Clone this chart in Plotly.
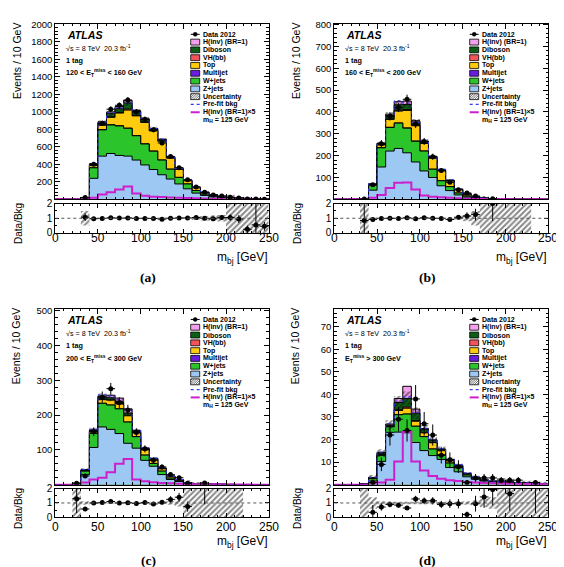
import numpy as np
import plotly.graph_objects as go

W, H = 564, 567

edges = list(range(0, 260, 10))          # bin edges 0..250 GeV
centers = [e + 5 for e in edges[:-1]]
xtick_vals = [0, 50, 100, 150, 200, 250]

# ---------------- Panel (a): 120 < ETmiss < 160 GeV ----------------
a_zjets    = [0,0,0,12,240,494,524,502,494,449,393,341,281,232,176,120,71,45,28,18,11,7,5,3,2]
a_wjets    = [0,0,0,5,120,300,326,337,318,278,240,210,168,113,75,56,30,15,10,7,5,3,2,2,1]
a_multijet = [0,0,0,0,1,2,2,2,2,2,1,1,1,0,0,0,0,0,0,0,0,0,0,0,0]
a_top      = [0,0,0,2,25,50,85,145,206,225,245,230,215,126,90,36,30,17,11,7,4,3,3,2,2]
a_vhbb     = [0,0,0,0,2,4,6,8,12,8,5,3,2,1,1,0,0,0,0,0,0,0,0,0,0]
a_diboson  = [0,0,0,1,14,25,40,45,70,40,30,20,15,10,8,6,5,3,2,2,1,1,0,0,0]
a_hinv     = [0,0,0,0,4,11,16,22,29,13,8,6,5,4,4,3,2,2,1,1,1,1,0,0,0]
a_data     = [0,0,0,21,400,870,1030,1075,1135,1000,915,795,645,490,362,224,142,80,50,37,23,14,3,4,2]
a_prefit   = [0,0,0,19,405,880,990,1045,1110,1010,920,810,690,488,352,220,138,82,52,35,22,15,10,7,5]
a_hinv5    = [0,0,0,2,19,55,80,112,146,66,40,30,26,22,18,15,12,9,7,5,4,3,2,2,1]
a_ratio    = [None,None,None,1.07,0.97,0.98,1.03,1.01,1.02,0.99,0.99,0.98,0.94,1.0,1.02,1.02,1.05,1.0,0.96,1.05,1.05,0.95,0.25,0.55,0.45]
a_ratio_err= [0,0,0,0.25,0.05,0.03,0.03,0.03,0.03,0.03,0.03,0.04,0.04,0.05,0.05,0.07,0.09,0.11,0.14,0.17,0.22,0.27,0.25,1.5,0.3]
a_unc      = [0,0,0,0.5,0.03,0.03,0.03,0.03,0.03,0.03,0.03,0.03,0.03,0.04,0.04,0.05,0.12,0.15,0.2,0.22,1.5,1.5,1.5,1.5,1.5]
a_yticks   = [200,400,600,800,1000,1200,1400,1600,1800,2000]

# ---------------- Panel (b): 160 < ETmiss < 200 GeV ----------------
b_zjets    = [0,0,0,1.5,42,148,221,233,213,171,130,100,62,40,20,10,5,3,1,0.7,0.5,0.3,0.2,0,0]
b_wjets    = [0,0,0,0.5,23,88,108,116,113,95,91,38,23,18,9,5,2,1,0.5,0.3,0.2,0.2,0.1,0,0]
b_multijet = [0,0,0,0,0,1,1,1,1,1,0,0,0,0,0,0,0,0,0,0,0,0,0,0,0]
b_top      = [0,0,0,0,3,12,36,54,80,70,35,50,45,26,15,8,4,2,0,0,0,0,0,0,0]
b_vhbb     = [0,0,0,0,0,1,2,4,4,3,1,1,0,0,0,0,0,0,0,0,0,0,0,0,0]
b_diboson  = [0,0,0,0,2,5,15,25,23,14,7,6,5,3,2,2,1,0,0,0,0,0,0,0,0]
b_hinv     = [0,0,0,0,1,2,7,14,16,6,3,2,1,1,1,0,0,0,0,0,0,0,0,0,0]
b_data     = [0,0,0,2,67,255,380,420,458,345,265,195,132,78,44,29,15,0,3,0,0,0,0,0,0]
b_prefit   = [0,0,0,2,72,260,388,452,440,352,268,196,138,90,47,25,12,6,1.5,1,0.7,0.5,0.3,0,0]
b_hinv5    = [0,0,0,1,7,20,52,76,77,45,17,12,9,7,5,3,2,1.5,1,1,0.5,0.5,0.3,0.2,0.1]
b_ratio    = [None,None,None,0.85,0.92,0.98,1.0,0.98,1.03,0.97,1.03,1.0,0.98,0.92,1.07,1.15,1.25,None,2.0,None,None,None,None,None,None]
b_ratio_err= [0,0,0,1.2,0.12,0.06,0.05,0.05,0.05,0.05,0.06,0.07,0.09,0.11,0.15,0.25,0.4,0,1.2,0,0,0,0,0,0]
b_unc      = [0,0,0,1.5,0.05,0.04,0.04,0.04,0.04,0.04,0.04,0.04,0.04,0.05,0.1,0.2,0.5,1.5,1.5,1.5,1.5,1.5,1.5,0,0]
b_yticks   = [100,200,300,400,500,600,700,800]

# ---------------- Panel (c): 200 < ETmiss < 300 GeV ----------------
c_zjets    = [0,0,2,29,107,166,159,147,119,105,70,53,29,15,9,3,2,1.5,1,0.7,0.5,0.3,0,0,0]
c_wjets    = [0,0,1,10,40,68,70,71,61,33,15,8,10,4,2,1,0.5,0.5,0.5,0.3,0.2,0.1,0,0,0]
c_multijet = [0,0,0,0,0,0,0,0,0,0,0,0,0,0,0,0,0,0,0,0,0,0,0,0,0]
c_top      = [0,0,0,2,5,11,14,14,18,11,15,12,7,5,3,1,0.5,0,0,0,0,0,0,0,0]
c_vhbb     = [0,0,0,0,1,1,1,1,1,1,0,0,0,0,0,0,0,0,0,0,0,0,0,0,0]
c_diboson  = [0,0,0,1,3,6,6,6,7,3,3,2,1,1,1,0,0,0,0,0,0,0,0,0,0]
c_hinv     = [0,0,0,1,2,3,7,10,12,3,2,1,1,0,0,0,0,0,0,0,0,0,0,0,0]
c_data     = [0,0,4,25,152,252,276,236,215,150,103,70,51,29,20,4,0,5,0,0,0,0,0,0,0]
c_prefit   = [0,0,3,44,160,258,255,245,214,158,106,76,49,25,15,5,3,2,1.5,1,0.7,0.4,0,0,0]
c_hinv5    = [0,0,0,6,15,20,36,60,74,15,10,7,5,4,3,2,1.5,1,1,0.5,0.5,0.3,0.2,0.1,0.1]
c_ratio    = [None,None,1.3,0.58,1.0,1.03,1.1,1.0,1.02,0.97,1.03,0.93,1.05,1.25,1.4,0.75,None,2.5,None,None,None,None,None,None,None]
c_ratio_err= [0,0,1.0,0.12,0.08,0.06,0.06,0.07,0.07,0.08,0.1,0.11,0.15,0.22,0.3,0.35,0,1.6,0,0,0,0,0,0,0]
c_unc      = [0,0,1.5,0.12,0.05,0.04,0.04,0.04,0.04,0.04,0.05,0.05,0.07,0.12,0.25,1.5,1.5,1.5,1.5,1.5,1.5,1.5,0,0,0]
c_yticks   = [100,200,300,400,500]

# ---------------- Panel (d): ETmiss > 300 GeV ----------------
d_zjets    = [0,0,0,0.2,1.6,10.3,23.2,23.3,23.0,18.7,15.1,12.9,11.2,7.6,5.7,3.5,2.4,1.6,1.2,1.0,0.9,0.7,0.6,0.5,0.4]
d_wjets    = [0,0,0,0.1,1.1,2.7,2.4,7.7,8.3,7.2,6.2,2.9,2.0,2.0,1.8,0.8,0.5,0.3,0.2,0.2,0.2,0.1,0.1,0.1,0.1]
d_multijet = [0,0,0,0,0,0,0,0,0,0,0,0,0,0,0,0,0,0,0,0,0,0,0,0,0]
d_top      = [0,0,0,0,0.2,0.4,0.3,1.9,2.6,2.2,1.7,2.9,1.9,1.0,0.7,0.4,0.2,0.1,0.1,0,0,0,0,0,0]
d_vhbb     = [0,0,0,0,0,0,0,0.3,0.5,0.3,0.1,0,0,0,0,0,0,0,0,0,0,0,0,0,0]
d_diboson  = [0,0,0,0,0.2,0.6,0.5,3.2,3.8,3.3,1.4,1.0,0.6,0.6,0.4,0.3,0.2,0.1,0,0,0,0,0,0,0]
d_hinv     = [0,0,0,0,0.1,0.3,0.5,1.8,5.4,1.8,0.4,0.2,0.1,0,0,0,0,0,0,0,0,0,0,0,0]
d_data     = [0,0,0,0,1,9,22,29,24,38,27,22,13,11,8,1,3,3,3,2,2,2,0,1,0]
d_prefit   = [0,0,0,0.3,3.3,14.5,27,37,39,32,25,20,16,11.5,8.8,5.2,3.4,2.2,1.6,1.3,1.2,0.9,0.8,0.7,0.6]
d_hinv5    = [0,0,0,0,0.5,1,2.2,10.3,23.3,10.3,6.3,3.9,2.6,2.0,1.6,1.2,1.0,0.8,0.6,0.5,0.4,0.3,0.3,0.2,0.2]
d_ratio    = [None,None,None,None,0.35,0.72,0.9,0.85,0.65,1.28,1.15,1.15,0.9,0.95,0.95,0.2,0.95,1.42,1.93,None,1.65,None,None,3.0,None]
d_ratio_err= [0,0,0,0,0.5,0.25,0.2,0.16,0.14,0.22,0.23,0.25,0.25,0.3,0.33,0.2,0.55,0.75,1.1,0,1.2,0,0,2.7,0]
d_unc      = [0,0,0,1.5,0.4,0.12,0.08,0.08,0.08,0.08,0.08,0.08,0.08,0.08,0.08,0.12,0.2,0.3,0.4,1.5,1.5,1.5,1.5,1.5,1.5]
d_yticks   = [10,20,30,40,50,60,70]

# ---------------- styling ----------------
comp_names  = ["Z+jets", "W+jets", "Multijet", "Top", "VH(bb)", "Diboson", "H(inv) (BR=1)"]
comp_colors = ["#9DC8F3", "#2BC42B", "#6A1BE0", "#FFCB0F", "#F2545B", "#0B5E16", "#F5A0EC"]
HINV5_COLOR = "#CC1FCC"
PREFIT_COLOR = "#3A3AF0"
FONT = "Liberation Sans, Arial, sans-serif"

panels = [
    dict(comps=[a_zjets, a_wjets, a_multijet, a_top, a_vhbb, a_diboson, a_hinv], data=a_data,
         prefit=a_prefit, hinv5=a_hinv5, ratio=a_ratio, ratio_err=a_ratio_err, unc=a_unc,
         yticks=a_yticks, ymax=2010, yminor=40,
         region="120 &lt; E<sub>T</sub><sup>miss</sup> &lt; 160 GeV", tag="(a)",
         left=47.3, right=260.7, top=9.7, bottom=189.0, rtop=193.3, rbottom=223.3,
         xlab_y=228.6, xtitle_y=249.3, tag_y=269.0),
    dict(comps=[b_zjets, b_wjets, b_multijet, b_top, b_vhbb, b_diboson, b_hinv], data=b_data,
         prefit=b_prefit, hinv5=b_hinv5, ratio=b_ratio, ratio_err=b_ratio_err, unc=b_unc,
         yticks=b_yticks, ymax=805, yminor=20,
         region="160 &lt; E<sub>T</sub><sup>miss</sup> &lt; 200 GeV", tag="(b)",
         left=326.3, right=540.3, top=9.7, bottom=189.0, rtop=193.3, rbottom=223.3,
         xlab_y=228.6, xtitle_y=249.3, tag_y=269.0),
    dict(comps=[c_zjets, c_wjets, c_multijet, c_top, c_vhbb, c_diboson, c_hinv], data=c_data,
         prefit=c_prefit, hinv5=c_hinv5, ratio=c_ratio, ratio_err=c_ratio_err, unc=c_unc,
         yticks=c_yticks, ymax=506, yminor=20,
         region="200 &lt; E<sub>T</sub><sup>miss</sup> &lt; 300 GeV", tag="(c)",
         left=47.3, right=260.7, top=300.5, bottom=480.0, rtop=484.0, rbottom=513.3,
         xlab_y=523.2, xtitle_y=538.3, tag_y=557.3),
    dict(comps=[d_zjets, d_wjets, d_multijet, d_top, d_vhbb, d_diboson, d_hinv], data=d_data,
         prefit=d_prefit, hinv5=d_hinv5, ratio=d_ratio, ratio_err=d_ratio_err, unc=d_unc,
         yticks=d_yticks, ymax=78, yminor=2,
         region="E<sub>T</sub><sup>miss</sup> &gt; 300 GeV", tag="(d)",
         left=326.3, right=540.3, top=300.5, bottom=480.0, rtop=484.0, rbottom=513.3,
         xlab_y=523.2, xtitle_y=538.3, tag_y=557.3),
]


def px2x(px):
    return px / W


def py2y(py):
    return 1 - py / H


def step(v):
    v = [0 if x is None else x for x in v]
    return list(v) + [v[-1]]


def sfx(n):
    return "" if n == 1 else str(n)


fig = go.Figure()
shapes = []
annotations = []

hatch = dict(shape="/", fgcolor="#111111", bgcolor="rgba(0,0,0,0)", size=4, solidity=0.5)
LEG_FS = 7.0

for i, p in enumerate(panels):
    m, r = 2 * i + 1, 2 * i + 2
    xm, ym, xr, yr = "x" + sfx(m), "y" + sfx(m), "x" + sfx(r), "y" + sfx(r)

    comps = np.array(p["comps"], dtype=float)
    cum = np.cumsum(comps, axis=0)
    # stacked histogram (draw tallest cumulative first)
    for k in reversed(range(len(comps))):
        fig.add_trace(go.Scatter(
            x=edges, y=step(cum[k]), mode="lines",
            line=dict(color="black", width=1, shape="hv"),
            fill="tozeroy", fillcolor=comp_colors[k],
            xaxis=xm, yaxis=ym, hoverinfo="skip", showlegend=False))
    bkg = cum[5]
    unc = np.array(p["unc"], dtype=float)
    lo = np.clip(bkg * (1 - unc), 0, None)
    hi = bkg * (1 + unc)
    fig.add_trace(go.Scatter(x=edges, y=step(lo), mode="lines", line=dict(width=0, shape="hv"),
                             xaxis=xm, yaxis=ym, hoverinfo="skip", showlegend=False))
    fig.add_trace(go.Scatter(x=edges, y=step(hi), mode="lines", line=dict(width=0, shape="hv"),
                             fill="tonexty", fillcolor="rgba(0,0,0,0)", fillpattern=hatch,
                             xaxis=xm, yaxis=ym, hoverinfo="skip", showlegend=False))
    # pre-fit background
    fig.add_trace(go.Scatter(x=edges, y=step(p["prefit"]), mode="lines",
                             line=dict(color=PREFIT_COLOR, width=1, dash="dot", shape="hv"),
                             xaxis=xm, yaxis=ym, hoverinfo="skip", showlegend=False))
    # signal x5
    fig.add_trace(go.Scatter(x=edges, y=step(p["hinv5"]), mode="lines",
                             line=dict(color=HINV5_COLOR, width=2, shape="hv"),
                             xaxis=xm, yaxis=ym, hoverinfo="skip", showlegend=False))
    # data
    dvals = [d if d > 0 else None for d in p["data"]]
    derr = [float(np.sqrt(d)) if d > 0 else 0 for d in p["data"]]
    fig.add_trace(go.Scatter(x=centers, y=dvals, mode="markers",
                             marker=dict(color="black", size=5),
                             error_y=dict(type="data", array=derr, color="black", thickness=1, width=0),
                             error_x=dict(type="constant", value=5, color="black", thickness=1, width=0),
                             xaxis=xm, yaxis=ym, hoverinfo="skip", showlegend=False))

    # ratio panel
    has = bkg > 0
    rlo = np.where(has, 1 - unc, 1.0)
    rhi = np.where(has, 1 + unc, 1.0)
    fig.add_trace(go.Scatter(x=edges, y=step(rlo), mode="lines", line=dict(width=0, shape="hv"),
                             xaxis=xr, yaxis=yr, hoverinfo="skip", showlegend=False))
    fig.add_trace(go.Scatter(x=edges, y=step(rhi), mode="lines", line=dict(width=0, shape="hv"),
                             fill="tonexty", fillcolor="rgba(0,0,0,0)", fillpattern=hatch,
                             xaxis=xr, yaxis=yr, hoverinfo="skip", showlegend=False))
    shapes.append(dict(type="line", xref=xr, yref=yr, x0=0, x1=250, y0=1, y1=1,
                       line=dict(color="#555555", width=1, dash="dot"), layer="above"))
    fig.add_trace(go.Scatter(x=centers, y=p["ratio"], mode="markers",
                             marker=dict(color="black", size=5),
                             error_y=dict(type="data", array=p["ratio_err"], color="black", thickness=1, width=0),
                             error_x=dict(type="constant", value=5, color="black", thickness=1, width=0),
                             xaxis=xr, yaxis=yr, hoverinfo="skip", showlegend=False, cliponaxis=True))

    # axes
    xdom = [px2x(p["left"]), px2x(p["right"])]
    common = dict(showline=True, linecolor="black", linewidth=1, mirror="ticks",
                  ticks="inside", tickcolor="black", tickwidth=1, showgrid=False, zeroline=False)
    fig.update_layout({
        "xaxis" + sfx(m): dict(domain=xdom, range=[0, 250], anchor=ym, showticklabels=False,
                               tickmode="array", tickvals=xtick_vals, ticklen=5,
                               minor=dict(ticks="inside", ticklen=2.5, tickmode="linear", tick0=0, dtick=10,
                                          tickcolor="black", showgrid=False), **common),
        "yaxis" + sfx(m): dict(domain=[py2y(p["bottom"]), py2y(p["top"])], range=[0, p["ymax"]], anchor=xm,
                               tickmode="array", tickvals=p["yticks"], ticklen=5,
                               tickfont=dict(family=FONT, size=9.5, color="black"),
                               minor=dict(ticks="inside", ticklen=2.5, tickmode="linear", tick0=0,
                                          dtick=p["yminor"], tickcolor="black", showgrid=False), **common),
        "xaxis" + sfx(r): dict(domain=xdom, range=[0, 250], anchor=yr, showticklabels=False,
                               tickmode="array", tickvals=xtick_vals, ticklen=4,
                               minor=dict(ticks="inside", ticklen=2, tickmode="linear", tick0=0, dtick=10,
                                          tickcolor="black", showgrid=False), **common),
        "yaxis" + sfx(r): dict(domain=[py2y(p["rbottom"]), py2y(p["rtop"])], range=[0, 2], anchor=xr,
                               tickmode="array", tickvals=[0, 1, 2], ticklen=4,
                               tickfont=dict(family=FONT, size=10, color="black"),
                               minor=dict(ticks="inside", ticklen=2, tickmode="linear", tick0=0, dtick=0.5,
                                          tickcolor="black", showgrid=False), **common),
    })

    # x tick labels of the ratio panel (placed tight under the frame, ROOT-style)
    for v in xtick_vals:
        annotations.append(dict(x=v, xref=xr, y=py2y(p["xlab_y"]), yref="paper", text=str(v),
                                showarrow=False, font=dict(family=FONT, size=12, color="black"),
                                xanchor="center", yanchor="middle"))

    L, T = p["left"], p["top"]
    # axis titles
    annotations.append(dict(x=px2x(L - 38.5), y=py2y(T + 38.5), xref="paper", yref="paper",
                            text="Events / 10 GeV", textangle=-90, showarrow=False,
                            font=dict(family=FONT, size=10.5, color="black"),
                            xanchor="center", yanchor="middle"))
    annotations.append(dict(x=px2x(L - 37.5), y=py2y(p["rtop"] + 20), xref="paper", yref="paper",
                            text="Data/Bkg", textangle=-90, showarrow=False,
                            font=dict(family=FONT, size=10, color="black"),
                            xanchor="center", yanchor="middle"))
    annotations.append(dict(x=px2x(p["right"] + 1), y=py2y(p["xtitle_y"]), xref="paper", yref="paper",
                            text="m<sub>bj</sub> [GeV]", showarrow=False,
                            font=dict(family=FONT, size=12, color="black"),
                            xanchor="right", yanchor="middle"))
    annotations.append(dict(x=px2x((p["left"] + p["right"]) / 2 - 14), y=py2y(p["tag_y"]), xref="paper", yref="paper",
                            text="<b>" + p["tag"] + "</b>", showarrow=False,
                            font=dict(family="Liberation Serif, Times New Roman, serif", size=13.5, color="black"),
                            xanchor="center", yanchor="middle"))
    # ATLAS labels
    annotations.append(dict(x=px2x(L + 9.5), y=py2y(T + 12), xref="paper", yref="paper",
                            text="<b><i>ATLAS</i></b>", showarrow=False,
                            font=dict(family=FONT, size=10.6, color="black"), xanchor="left", yanchor="middle"))
    annotations.append(dict(x=px2x(L + 9), y=py2y(T + 24.6), xref="paper", yref="paper",
                            text="√s = 8 TeV&nbsp;&nbsp;20.3 fb<sup>-1</sup>", showarrow=False,
                            font=dict(family=FONT, size=7.2, color="black"), xanchor="left", yanchor="middle"))
    annotations.append(dict(x=px2x(L + 9), y=py2y(T + 38), xref="paper", yref="paper",
                            text="<b>1 tag</b>", showarrow=False,
                            font=dict(family=FONT, size=7.2, color="black"), xanchor="left", yanchor="middle"))
    annotations.append(dict(x=px2x(L + 9), y=py2y(T + 50.4), xref="paper", yref="paper",
                            text="<b>" + p["region"] + "</b>", showarrow=False,
                            font=dict(family=FONT, size=7.2, color="black"), xanchor="left", yanchor="middle"))

    # legend (drawn manually, ROOT-style compact rows)
    bx0, bx1 = L + 135.4, L + 144.4
    tx = L + 146.5
    rows = [("data", None, "Data 2012")]
    for k in reversed(range(len(comp_names))):
        rows.append(("box", comp_colors[k], comp_names[k]))
    rows += [("hatch", None, "Uncertainty"), ("dot", PREFIT_COLOR, "Pre-fit bkg"),
             ("line", HINV5_COLOR, "H(inv) (BR=1)×5"), ("none", None, "m<sub>H</sub> = 125 GeV")]
    for k, (kind, col, txt) in enumerate(rows):
        yc = T + 11 + 7.95 * k
        if kind == "box":
            shapes.append(dict(type="rect", xref="paper", yref="paper",
                               x0=px2x(bx0), x1=px2x(bx1), y0=py2y(yc + 3), y1=py2y(yc - 3),
                               fillcolor=col, line=dict(color="black", width=0.8)))
        elif kind == "hatch":
            shapes.append(dict(type="rect", xref="paper", yref="paper",
                               x0=px2x(bx0), x1=px2x(bx1), y0=py2y(yc + 3), y1=py2y(yc - 3),
                               fillcolor="white", line=dict(color="black", width=0.8)))
            yb = yc + 3
            for s in [-4.5, -2.25, 0, 2.25, 4.5, 6.75, 9.0]:
                xa_ = bx0 + s
                t0 = max(0.0, (bx0 - xa_) / 6)
                t1 = min(1.0, (bx1 - xa_) / 6)
                if t1 <= t0:
                    continue
                shapes.append(dict(type="line", xref="paper", yref="paper",
                                   x0=px2x(xa_ + 6 * t0), y0=py2y(yb - 6 * t0),
                                   x1=px2x(xa_ + 6 * t1), y1=py2y(yb - 6 * t1),
                                   line=dict(color="#333333", width=0.7)))
        elif kind == "data":
            shapes.append(dict(type="line", xref="paper", yref="paper",
                               x0=px2x(bx0), x1=px2x(bx1), y0=py2y(yc), y1=py2y(yc),
                               line=dict(color="black", width=1)))
            cx = (bx0 + bx1) / 2
            shapes.append(dict(type="circle", xref="paper", yref="paper",
                               x0=px2x(cx - 2), x1=px2x(cx + 2), y0=py2y(yc + 2), y1=py2y(yc - 2),
                               fillcolor="black", line=dict(color="black", width=0.5)))
        elif kind == "dot":
            shapes.append(dict(type="line", xref="paper", yref="paper",
                               x0=px2x(bx0), x1=px2x(bx1), y0=py2y(yc), y1=py2y(yc),
                               line=dict(color=col, width=1.2, dash="dot")))
        elif kind == "line":
            shapes.append(dict(type="line", xref="paper", yref="paper",
                               x0=px2x(bx0), x1=px2x(bx1), y0=py2y(yc), y1=py2y(yc),
                               line=dict(color=col, width=2)))
        annotations.append(dict(x=px2x(tx), y=py2y(yc), xref="paper", yref="paper",
                                text="<b>" + txt + "</b>", showarrow=False,
                                font=dict(family=FONT, size=LEG_FS, color="black"),
                                xanchor="left", yanchor="middle", borderpad=0))

fig.update_layout(width=W, height=H, margin=dict(l=0, r=0, t=0, b=0),
                  paper_bgcolor="white", plot_bgcolor="white", showlegend=False,
                  shapes=shapes, annotations=annotations,
                  font=dict(family=FONT, color="black"))

fig.write_html("out.html")
